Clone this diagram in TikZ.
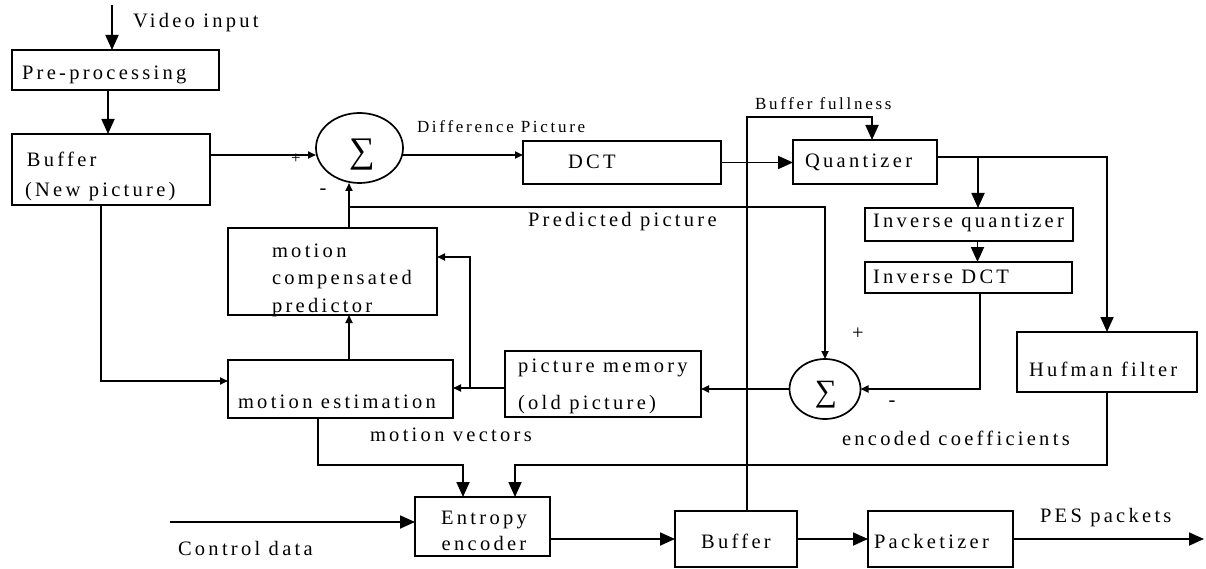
\documentclass[tikz,border=0pt]{standalone}
\usepackage{fontspec}
\setmainfont{Liberation Serif}[LetterSpace=16,Ligatures=CommonOff]
\newfontfamily\sumfont{Liberation Serif}
\usetikzlibrary{arrows.meta,shapes.geometric,calc}
\newcommand\bigtxt{\fontsize{20.5}{23}\selectfont}
\newcommand\smalltxt{\fontsize{17}{19}\selectfont}
\tikzset{
  wire/.style={line width=1.8pt},
  bigarr/.style={wire,-{Triangle[length=15pt,width=13pt]}},
  smallarr/.style={wire,-{Triangle[length=8pt,width=7pt]}},
  box/.style={draw,line width=1.7pt,inner sep=0pt,outer sep=0pt},
  sumnode/.style={draw,ellipse,line width=1.7pt,inner sep=0pt,outer sep=0pt},
  lbl/.style={inner sep=0pt,outer sep=0pt,anchor=base west,font=\bigtxt},
  slbl/.style={lbl,font=\smalltxt},
  sign/.style={inner sep=0pt,font=\bigtxt}
}
\begin{document}
\begin{tikzpicture}[x=1pt,y=-1pt]
\useasboundingbox (0,0) rectangle (1206,569);

% blocks
\node[box,minimum width=207pt,minimum height=40pt] (pre) at (115.5,70) {};
\node[box,minimum width=198pt,minimum height=71pt] (buf) at (111,169.5) {};
\node[box,minimum width=198pt,minimum height=43pt] (dct) at (622,162.5) {};
\node[box,minimum width=144pt,minimum height=44pt] (q) at (865,162) {};
\node[box,minimum width=208pt,minimum height=33pt] (iq) at (969,224.5) {};
\node[box,minimum width=207pt,minimum height=31pt] (idct) at (968.5,277.5) {};
\node[box,minimum width=180pt,minimum height=60pt] (hf) at (1107,362) {};
\node[box,minimum width=209pt,minimum height=87pt] (mcp) at (332.5,271.5) {};
\node[box,minimum width=225pt,minimum height=58pt] (me) at (340.5,389) {};
\node[box,minimum width=196pt,minimum height=66pt] (pm) at (603,384) {};
\node[box,minimum width=135pt,minimum height=59pt] (ent) at (482.5,526.5) {};
\node[box,minimum width=122pt,minimum height=56pt] (obuf) at (736,539) {};
\node[box,minimum width=145pt,minimum height=56pt] (pk) at (940.5,539) {};

% summing junctions
\node[sumnode,minimum width=87pt,minimum height=70pt] (s1) at (359.5,148) {};
\node[inner sep=0pt,font=\sumfont\fontsize{36}{36}\selectfont] (s1sym) at (362,155) {∑};
\node[sumnode,minimum width=71pt,minimum height=60pt] (s2) at (825,389) {};
\node[inner sep=0pt,font=\sumfont\fontsize{31}{31}\selectfont] (s2sym) at (826,395) {∑};

% block texts
\node[lbl] (pretxt) at (22,80) {Pre-processing};
\node[lbl] (buftxt1) at (27,167) {Buffer};
\node[lbl] (buftxt2) at (25,197) {(New picture)};
\node[lbl] (dcttxt) at (568,169) {DCT};
\node[lbl] (qtxt) at (805,168) {Quantizer};
\node[lbl] (iqtxt) at (873,228) {Inverse quantizer};
\node[lbl] (idtxt) at (873,283) {Inverse DCT};
\node[lbl] (hftxt) at (1029,376) {Hufman filter};
\node[lbl] (mcptxt1) at (272,258) {motion};
\node[lbl] (mcptxt2) at (272,284) {compensated};
\node[lbl] (mcptxt3) at (272,312) {predictor};
\node[lbl] (metxt) at (238,408) {motion estimation};
\node[lbl] (pmtxt1) at (518,372) {picture memory};
\node[lbl] (pmtxt2) at (518,409) {(old picture)};
\node[lbl,anchor=base] (enttxt1) at (484,524) {Entropy};
\node[lbl,anchor=base] (enttxt2) at (484,550) {encoder};
\node[lbl,anchor=base] (obuftxt) at (736,548) {Buffer};
\node[lbl] (pktxt) at (874,548) {Packetizer};

% signal labels
\node[lbl] (vidtxt) at (133,28) {Video input};
\node[slbl] (diftxt) at (417,133) {Difference Picture};
\node[slbl] (bftxt) at (755,110) {Buffer fullness};
\node[lbl] (pptxt) at (528,227) {Predicted picture};
\node[lbl] (mvtxt) at (370,441) {motion vectors};
\node[lbl] (ectxt) at (842,445) {encoded coefficients};
\node[lbl] (ctltxt) at (178,555) {Control data};
\node[lbl] (pestxt) at (1040,522) {PES packets};
\node[sign,font=\smalltxt] (s1plus) at (296,159) {+};
\node[sign] (s1minus) at (323,192) {-};
\node[sign] (s2plus) at (858,334) {+};
\node[sign] (s2minus) at (892,404) {-};

% free ends and junctions
\coordinate (vin) at (112,5);
\coordinate (ctl) at (170,522);
\coordinate (pes) at (1204,539);
\coordinate (ppj) at (349,207);
\coordinate (mcpj) at (470,388);
\coordinate (qo) at ([yshift=5pt]q.east);
\coordinate (qj) at ([xshift=9pt]iq.north |- qo);

% forward path
\draw[bigarr] (vin) -- (vin |- pre.north);
\draw[bigarr] ([xshift=-7.5pt]pre.south) -- ([xshift=-7.5pt]pre.south |- buf.north);
\draw[smallarr] ([yshift=14.5pt]buf.east) -- ([yshift=14.5pt]buf.east -| s1.west);
\draw[smallarr] ([yshift=7.5pt]dct.west -| s1.east) -- ([yshift=7.5pt]dct.west);
\draw[bigarr] (dct.east) -- (dct.east -| q.west);
\draw[bigarr] (qo) -| (hf.north);
\draw[bigarr] (qj) -- ([xshift=9pt]iq.north);
\draw[bigarr] ([xshift=9pt]idct.north |- iq.south) -- ([xshift=9pt]idct.north);

% reconstruction loop
\draw[smallarr] ([xshift=11.5pt]idct.south) |- (s2.east);
\draw[smallarr] (s2.west) -- (s2.west -| pm.east);
\draw[smallarr] ([yshift=-4pt]pm.west) -- ([yshift=-4pt]pm.west -| me.east);
\draw[smallarr] (mcpj) |- ([yshift=14.5pt]mcp.east);
\draw[smallarr] ([xshift=8.5pt]me.north) -- ([xshift=8.5pt]me.north |- mcp.south);
\draw[smallarr] ([xshift=-10pt]buf.south) |- ([yshift=8pt]me.west);
\draw[smallarr] ([xshift=16.5pt]mcp.north) -- ([xshift=16.5pt]mcp.north |- s1.south);
\draw[smallarr] (ppj) -| (s2.north);

% rate control
\draw[bigarr] ([xshift=11pt]obuf.north) |- ([xshift=7pt,yshift=23pt]q.north) -- ([xshift=7pt]q.north);

% entropy coding and output
\draw[bigarr] ([xshift=-22.5pt]me.south) |- ([xshift=-19.5pt,yshift=32pt]ent.north) -- ([xshift=-19.5pt]ent.north);
\draw[bigarr] (hf.south) |- ([xshift=32.5pt,yshift=32pt]ent.north) -- ([xshift=32.5pt]ent.north);
\draw[bigarr] (ctl) -- ([yshift=4.5pt]ent.west);
\draw[bigarr] ([yshift=-12.5pt]ent.east) -- ([yshift=-12.5pt]ent.east -| obuf.west);
\draw[bigarr] (obuf.east) -- (pk.west);
\draw[bigarr] (pk.east) -- (pes);
\end{tikzpicture}
\end{document}
